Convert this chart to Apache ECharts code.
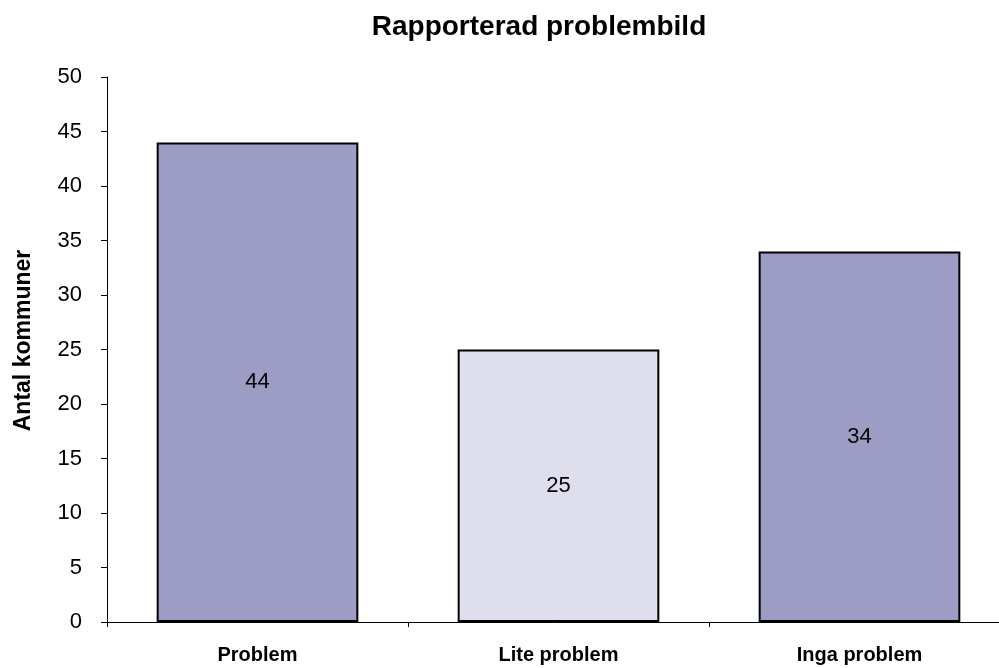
<!DOCTYPE html>
<html><head><meta charset="utf-8">
<script src="https://cdn.jsdelivr.net/npm/echarts@6/dist/echarts.min.js"></script>
<style>html,body{margin:0;padding:0;background:#fff}#c{width:999px;height:668px}</style>
</head><body><div id="c"></div>
<script>
const categories = ["Problem", "Lite problem", "Inga problem"];
const values = [44, 25, 34];
const barColors = ["#9C9CC4", "#DEDEEC", "#9C9CC4"];
const yTicks = [0, 5, 10, 15, 20, 25, 30, 35, 40, 45, 50];

const chart = echarts.init(document.getElementById('c'), null, {renderer: 'canvas'});
chart.setOption({
  animation: false,
  backgroundColor: '#fff',
  title: {
    text: 'Rapporterad problembild',
    left: 534, top: 8, textAlign: 'center',
    textStyle: {fontFamily: 'Liberation Sans', fontWeight: 'bold', fontSize: 28, color: '#000'}
  },
  grid: {left: 107, top: 77, width: 903, bottom: 46, containLabel: false, outerBoundsMode: 'none'},
  xAxis: {
    type: 'category', data: categories, boundaryGap: true,
    axisLine: {lineStyle: {color: '#000', width: 1}},
    axisTick: {show: true, length: 5, lineStyle: {color: '#000'}},
    axisLabel: {margin: 23, fontFamily: 'Liberation Sans', fontWeight: 'bold', fontSize: 20, color: '#000'},
    splitLine: {show: false}
  },
  yAxis: {
    type: 'value', min: yTicks[0], max: yTicks[yTicks.length - 1], interval: 5,
    name: 'Antal kommuner', nameLocation: 'middle', nameGap: 72,
    nameTextStyle: {fontFamily: 'Liberation Sans', fontWeight: 'bold', fontSize: 23, color: '#000', padding: [0, 0, 0, 18]},
    axisLine: {show: true, lineStyle: {color: '#000', width: 1}},
    axisTick: {show: true, length: 6, lineStyle: {color: '#000'}},
    axisLabel: {margin: 25, fontFamily: 'Liberation Sans', fontSize: 22, color: '#000'},
    splitLine: {show: false}
  },
  series: [{
    type: 'bar', barCategoryGap: '33%',
    data: values.map((v, i) => ({value: v, itemStyle: {color: barColors[i]}})),
    itemStyle: {borderColor: '#000', borderWidth: 2},
    label: {show: true, position: 'inside', fontFamily: 'Liberation Sans', fontSize: 22, color: '#000'}
  }]
});
</script></body></html>
